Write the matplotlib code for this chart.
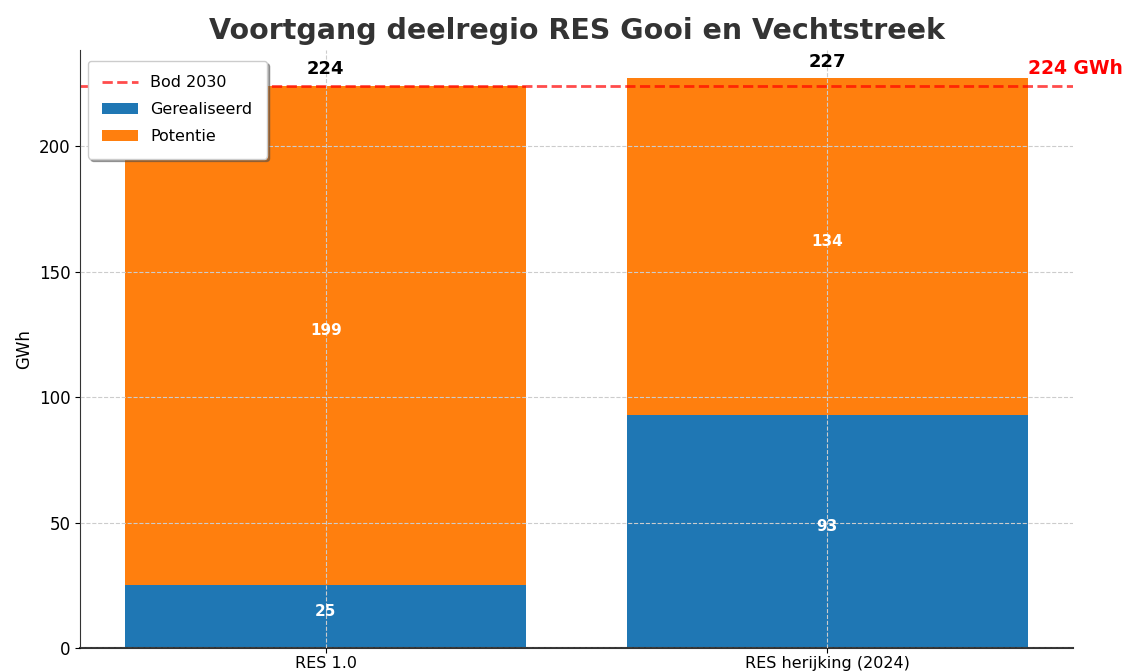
import matplotlib
matplotlib.use("Agg")
import matplotlib.pyplot as plt

categories = ["RES 1.0", "RES herijking (2024)"]
gerealiseerd = [25, 93]
potentie = [199, 134]
bod_2030 = 224

totals = [g + p for g, p in zip(gerealiseerd, potentie)]

fig = plt.figure(figsize=(11.29, 6.72), dpi=100)
ax = fig.add_axes([0.0709, 0.0357, 0.8796, 0.8899])

x = list(range(len(categories)))
ax.axhline(bod_2030, color="red", linestyle="--", linewidth=2, alpha=0.7, label="Bod 2030")
ax.bar(x, gerealiseerd, width=0.8, color="#1f77b4", label="Gerealiseerd")
ax.bar(x, potentie, width=0.8, bottom=gerealiseerd, color="#ff7f0e", label="Potentie")

for xi, g, p, t in zip(x, gerealiseerd, potentie, totals):
    ax.text(xi, g / 2 + 2, f"{g}", ha="center", va="center", color="white", fontweight="bold", fontsize=11)
    ax.text(xi, g + p / 2 + 2, f"{p}", ha="center", va="center", color="white", fontweight="bold", fontsize=11)
    ax.text(xi, t + 3, f"{t}", ha="center", va="bottom", color="black", fontweight="bold", fontsize=13)

ax.text(1.4, bod_2030 + 3, f"{bod_2030} GWh", ha="left", va="bottom", color="red",
        fontweight="bold", fontsize=13.5, clip_on=False)

ax.set_xticks(x)
ax.set_xticklabels(categories, fontsize=11.5)
ax.tick_params(axis="x", pad=2)
ax.tick_params(axis="y", labelsize=12)
ax.set_yticks([0, 50, 100, 150, 200])
ax.set_ylim(0, 238.35)
ax.set_ylabel("GWh", fontsize=12)
ax.set_title("Voortgang deelregio RES Gooi en Vechtstreek", fontsize=20.5, fontweight="bold",
             color="#333333", pad=8)

ax.grid(True, linestyle="--", color="#cccccc", linewidth=0.8)
ax.set_axisbelow(False)
for s in ["top", "right"]:
    ax.spines[s].set_visible(False)
ax.spines["left"].set_color("#333333")
ax.spines["bottom"].set_color("#333333")
ax.spines["bottom"].set_linewidth(1.5)

ax.legend(loc="upper left", fontsize=11.5, shadow=True, frameon=True, bbox_to_anchor=(0.0, 0.995),
          borderaxespad=0.5, borderpad=0.9, labelspacing=0.75, handlelength=2.2)

fig.savefig("out.png", dpi=100)
